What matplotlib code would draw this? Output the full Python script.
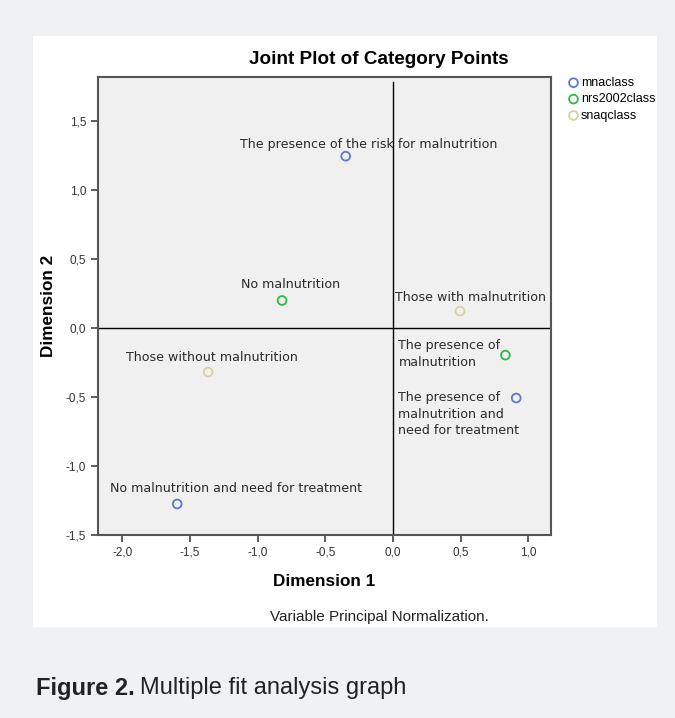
import matplotlib
matplotlib.use("Agg")
import matplotlib.pyplot as plt
from matplotlib.ticker import FuncFormatter

# category points (dimension 1, dimension 2)
mna_x = [-0.35, 0.91, -1.595]
mna_y = [1.246, -0.507, -1.275]
mna_labels = ["The presence of the risk for malnutrition",
              "The presence of\nmalnutrition and\nneed for treatment",
              "No malnutrition and need for treatment"]

nrs_x = [-0.82, 0.83]
nrs_y = [0.20, -0.196]
nrs_labels = ["No malnutrition", "The presence of\nmalnutrition"]

snaq_x = [0.495, -1.366]
snaq_y = [0.123, -0.319]
snaq_labels = ["Those with malnutrition", "Those without malnutrition"]

series_names = ["mnaclass", "nrs2002class", "snaqclass"]
colors = ["#5f78cc", "#2fb845", "#d6d29e"]

x_ticks = [-2.0, -1.5, -1.0, -0.5, 0.0, 0.5, 1.0]
y_ticks = [-1.5, -1.0, -0.5, 0.0, 0.5, 1.0, 1.5]

fig = plt.figure(figsize=(6.75, 7.18), dpi=100)
fig.patch.set_facecolor("#f0f1f3")

# white panel behind the chart
panel = plt.Rectangle((33 / 675, 1 - 627 / 718), 624 / 675, 591 / 718,
                      transform=fig.transFigure, facecolor="white",
                      edgecolor="none", zorder=-10)
fig.patches.append(panel)

ax = fig.add_axes([98 / 675, 1 - 535 / 718, 453 / 675, 458 / 718])
ax.set_facecolor("#f0f0f0")
ax.set_xlim(-2.18, 1.167)
ax.set_ylim(-1.5, 1.82)

ax.axhline(0, color="black", lw=1.0, zorder=1)
ax.axvline(0, ymax=0.99, color="black", lw=1.0, zorder=1)

groups = [(mna_x, mna_y, mna_labels), (nrs_x, nrs_y, nrs_labels),
          (snaq_x, snaq_y, snaq_labels)]
for (xs, ys, labs), name, c in zip(groups, series_names, colors):
    ax.scatter(xs, ys, s=40, facecolors="none", edgecolors=c,
               linewidths=1.3, label=name, zorder=3)

# label offsets (pixels) and alignment
label_pos = {
    "The presence of the risk for malnutrition": (23, 12, "center"),
    "The presence of\nmalnutrition and\nneed for treatment": (-118, -16, "left"),
    "No malnutrition and need for treatment": (59, 15, "center"),
    "No malnutrition": (8, 16, "center"),
    "The presence of\nmalnutrition": (-107, 1, "left"),
    "Those with malnutrition": (10, 14, "center"),
    "Those without malnutrition": (4, 15, "center"),
}
for xs, ys, labs in groups:
    for x, y, lab in zip(xs, ys, labs):
        dx, dy, ha = label_pos[lab]
        ax.annotate(lab, (x, y), xytext=(dx, dy), textcoords="offset pixels",
                    ha=ha, va="center", fontsize=9.1, color="#2a2a2a",
                    family="DejaVu Sans", linespacing=1.35)

comma = FuncFormatter(lambda v, p: f"{v:.1f}".replace(".", ","))
ax.set_xticks(x_ticks)
ax.set_yticks(y_ticks)
ax.xaxis.set_major_formatter(comma)
ax.yaxis.set_major_formatter(comma)
ax.tick_params(direction="out", length=5, width=1.2, color="#444444",
               labelsize=8.5, labelcolor="#333333")
for s in ax.spines.values():
    s.set_color("#555555")
    s.set_linewidth(1.5)

for lab in ax.get_xticklabels() + ax.get_yticklabels():
    lab.set_family("Liberation Sans")

fig.text(379 / 675, 1 - 60 / 718, "Joint Plot of Category Points",
         ha="center", va="center", fontsize=13.6, fontweight="bold",
         family="Liberation Sans")
ax.set_xlabel("Dimension 1", fontsize=12.3, fontweight="bold",
              family="Liberation Sans", labelpad=11)
ax.set_ylabel("Dimension 2", fontsize=12.3, fontweight="bold",
              family="Liberation Sans", labelpad=7)
fig.text(379 / 675, 1 - 617 / 718, "Variable Principal Normalization.",
         ha="center", va="center", fontsize=11, family="Liberation Sans",
         color="#222222")

leg = ax.legend(loc="upper left", bbox_to_anchor=(561 / 675, 1 - 72 / 718),
                bbox_transform=fig.transFigure, frameon=False,
                handletextpad=0.0, labelspacing=0.35, borderaxespad=0,
                handlelength=1.2, prop={"family": "Liberation Sans", "size": 9})

fig.text(36 / 675, 1 - 688 / 718, "Figure 2.", ha="left", va="center",
         fontsize=17, fontweight="bold", color="#222222",
         family="Liberation Sans")
fig.text(140 / 675, 1 - 688 / 718, "Multiple fit analysis graph", ha="left",
         va="center", fontsize=17, color="#222222",
         family="Liberation Sans")

fig.savefig("out.png", dpi=100, facecolor=fig.get_facecolor())
